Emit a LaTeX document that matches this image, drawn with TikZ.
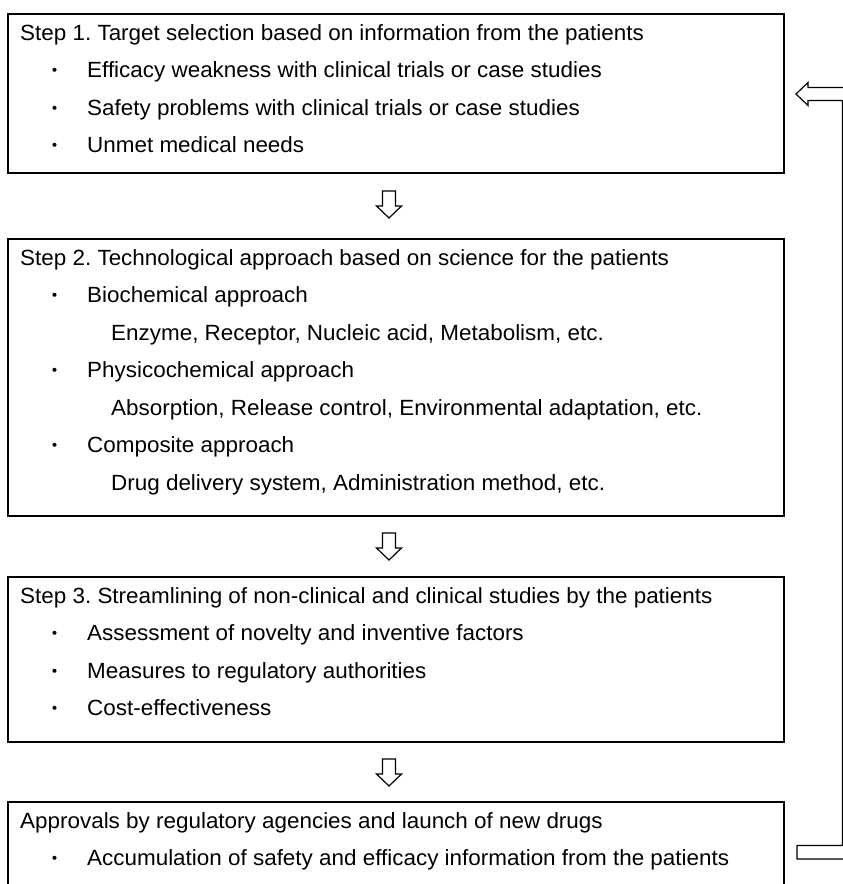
\documentclass[tikz,border=0pt]{standalone}
\usepackage{fontspec}
\setmainfont[FakeStretch=1.02]{Liberation Sans}
\newfontfamily\cjk{Noto Sans CJK JP}
\usetikzlibrary{calc}
\frenchspacing
\begin{document}
\begin{tikzpicture}[x=1pt,y=-1pt,
  box/.style={draw, line width=1.8pt, inner sep=0pt, outer sep=0pt, minimum width=776pt, anchor=north west},
  openbox/.style={inner sep=0pt, outer sep=0pt, minimum width=776pt, anchor=north west},
  boxline/.style={line width=1.8pt},
  txt/.style={anchor=base west, inner sep=0pt, font=\fontsize{22}{24}\selectfont},
  bul/.style={anchor=base, inner sep=0pt, font=\cjk\fontsize{19}{22}\selectfont},
  harrow/.style={draw, line width=1.2pt, line join=miter, fill=white},
  downarr/.pic={\draw[harrow] (-6.5,0) -- (6.5,0) -- (6.5,15) -- (12.5,15) -- (0,27) -- (-12.5,15) -- (-6.5,15) -- cycle;}]
\useasboundingbox (0,0) rectangle (843,884);
\clip (0,0) rectangle (843,884);

% boxes
\node[box, minimum height=159pt] (b1) at (8,14) {};
\node[box, minimum height=277pt] (b2) at (8,239) {};
\node[box, minimum height=165pt] (b3) at (8,577) {};
\node[openbox, minimum height=100pt] (b4) at (8,802) {};
\draw[boxline] (b4.south west) |- (b4.north east) -- (b4.south east);

% box 1 text
\node[txt] (t11) at (20,40) {Step 1. Target selection based on information from the patients};
\node[bul] (d12) at (55,77.5) {・};
\node[txt] (t12) at (87,77.5) {Efficacy weakness with clinical trials or case studies};
\node[bul] (d13) at (55,115) {・};
\node[txt] (t13) at (87,115) {Safety problems with clinical trials or case studies};
\node[bul] (d14) at (55,152.5) {・};
\node[txt] (t14) at (87,152.5) {Unmet medical needs};

% box 2 text
\node[txt] (t21) at (20,265) {Step 2. Technological approach based on science for the patients};
\node[bul] (d22) at (55,302.5) {・};
\node[txt] (t22) at (87,302.5) {Biochemical approach};
\node[txt] (t23) at (111,340) {Enzyme, Receptor, Nucleic acid, Metabolism, etc.};
\node[bul] (d24) at (55,377.5) {・};
\node[txt] (t24) at (87,377.5) {Physicochemical approach};
\node[txt] (t25) at (111,415) {Absorption, Release control, Environmental adaptation, etc.};
\node[bul] (d26) at (55,452.5) {・};
\node[txt] (t26) at (87,452.5) {Composite approach};
\node[txt] (t27) at (111,490) {Drug delivery system, Administration method, etc.};

% box 3 text
\node[txt] (t31) at (20,603) {Step 3. Streamlining of non-clinical and clinical studies by the patients};
\node[bul] (d32) at (55,640.5) {・};
\node[txt] (t32) at (87,640.5) {Assessment of novelty and inventive factors};
\node[bul] (d33) at (55,678) {・};
\node[txt] (t33) at (87,678) {Measures to regulatory authorities};
\node[bul] (d34) at (55,715.5) {・};
\node[txt] (t34) at (87,715.5) {Cost-effectiveness};

% box 4 text
\node[txt] (t41) at (20,828) {Approvals by regulatory agencies and launch of new drugs};
\node[bul] (d42) at (55,865.5) {・};
\node[txt] (t42) at (87,865.5) {Accumulation of safety and efficacy information from the patients};

% down arrows
\pic at ($(b1.south)+(-7,18)$) {downarr};
\pic at ($(b2.south)+(-7,17)$) {downarr};
\pic at ($(b3.south)+(-7,17)$) {downarr};

% feedback arrow from b4 back to b1
\coordinate (fTip) at ($(b1.east)+(12,0.5)$);
\coordinate (fBot) at ($(b4.north east)+(13,50)$);
\draw[harrow] (fTip) -- ++(12,-11.5) -- ++(0,5) -- ++(47.5,0) |- ($(fBot)+(0,7)$)
  -- ++(0,-13.5) -- ++(45.5,0) |- ($(fTip)+(12,6.5)$) -- ++(0,5) -- cycle;
\end{tikzpicture}
\end{document}
